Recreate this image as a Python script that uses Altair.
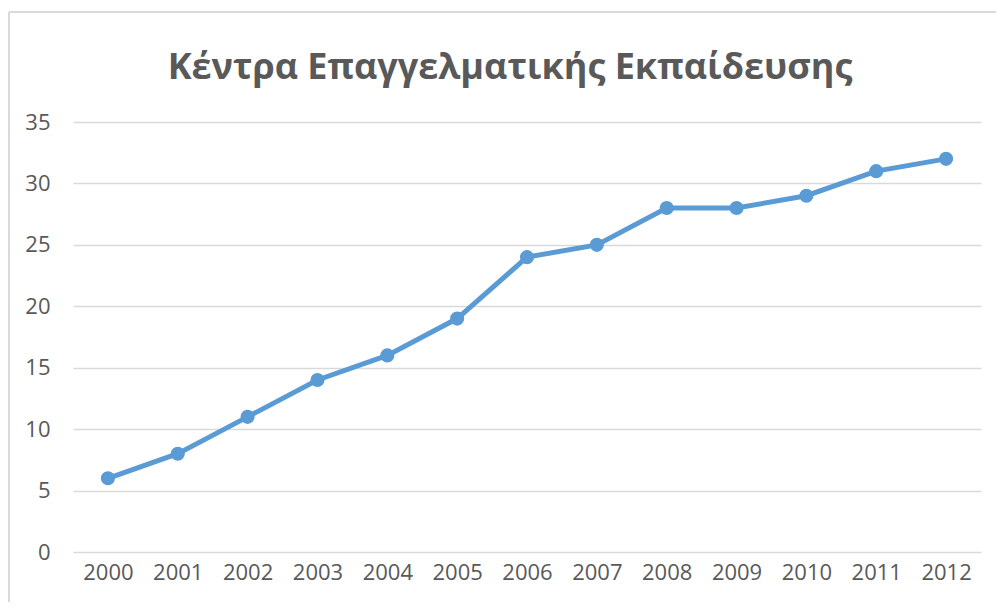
import altair as alt
import pandas as pd

years = ["2000", "2001", "2002", "2003", "2004", "2005", "2006",
         "2007", "2008", "2009", "2010", "2011", "2012"]
values = [6, 8, 11, 14, 16, 19, 24, 25, 28, 28, 29, 31, 32]
y_ticks = [0, 5, 10, 15, 20, 25, 30, 35]
title_text = "Κέντρα Επαγγελματικής Εκπαίδευσης"

df = pd.DataFrame({"year": years, "value": values})

GREY = "#595959"
BLUE = "#5b9bd5"
W, H = 908, 430

x_enc = alt.X("year:N", sort=years,
              scale=alt.Scale(type="point", padding=0.5),
              axis=alt.Axis(title=None, labelAngle=0, ticks=False, domain=False,
                            labelFontSize=22, labelColor=GREY, labelFont="Open Sans",
                            labelPadding=10, grid=False))
y_enc = alt.Y("value:Q",
              scale=alt.Scale(domain=[0, 35], nice=False),
              axis=alt.Axis(title=None, values=y_ticks, ticks=False, domain=False,
                            labelFontSize=22, labelColor=GREY, labelFont="Open Sans",
                            labelPadding=23, grid=True, gridColor="#d9d9d9",
                            gridWidth=1.5))

base = alt.Chart(df)
line = base.mark_line(color=BLUE, strokeWidth=5).encode(x=x_enc, y=y_enc)
pts = base.mark_circle(color=BLUE, size=200, opacity=1).encode(x=x_enc, y=y_enc)

one = pd.DataFrame({"k": [0]})
left_border = alt.Chart(one).mark_rule(color="#d9d9d9", strokeWidth=2, clip=False).encode(
    x=alt.value(-64), y=alt.value(-110), y2=alt.value(H + 60))
top_border = alt.Chart(one).mark_rule(color="#d9d9d9", strokeWidth=2, clip=False).encode(
    x=alt.value(-64), x2=alt.value(W + 40), y=alt.value(-110))
title = alt.Chart(one).mark_text(
    text=title_text, fontSize=36, font="Open Sans", fontWeight="bold", color=GREY,
    align="center", baseline="middle", clip=False).encode(
    x=alt.value(437), y=alt.value(-54))

chart = alt.layer(left_border, top_border, title, line, pts).properties(
    width=W, height=H,
    autosize=alt.AutoSizeParams(type="none"),
    padding={"left": 65, "top": 114, "right": 15, "bottom": 50},
).configure(background="white").configure_view(strokeWidth=0)

chart.save("out.html", embed_options={"renderer": "svg", "actions": False})
